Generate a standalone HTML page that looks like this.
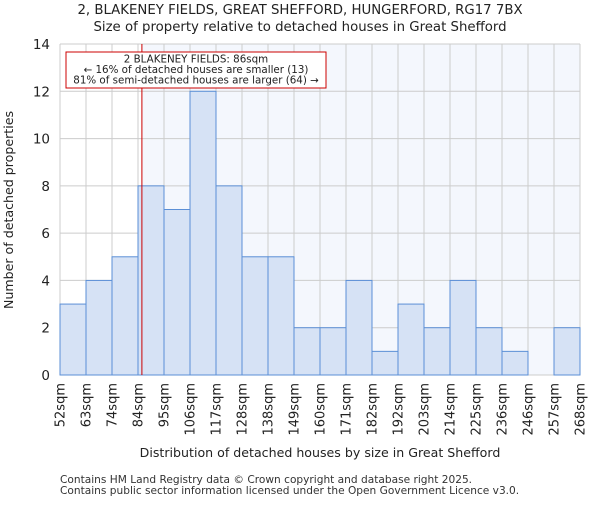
<!DOCTYPE html>
<html><head><meta charset="utf-8"><style>body{margin:0;background:#fff}svg text{font-family:"DejaVu Sans","Liberation Sans",sans-serif}</style></head>
<body>
<svg id="chart" width="600" height="500" xmlns="http://www.w3.org/2000/svg">
<text x="300" y="14" text-anchor="middle" font-size="13.3" fill="#222">2, BLAKENEY FIELDS, GREAT SHEFFORD, HUNGERFORD, RG17 7BX</text>
<text x="300" y="31" text-anchor="middle" font-size="13.3" fill="#222">Size of property relative to detached houses in Great Shefford</text>
<g id="plot"></g>
<text x="320" y="457" text-anchor="middle" font-size="12.6" fill="#222">Distribution of detached houses by size in Great Shefford</text>
<text transform="translate(13,210) rotate(-90)" text-anchor="middle" font-size="12.6" fill="#222">Number of detached properties</text>
<text x="60" y="483" font-size="10.6" fill="#333">Contains HM Land Registry data © Crown copyright and database right 2025.</text>
<text x="60" y="494" font-size="10.6" fill="#333">Contains public sector information licensed under the Open Government Licence v3.0.</text>
</svg>
<script>
const categories=["52sqm","63sqm","74sqm","84sqm","95sqm","106sqm","117sqm","128sqm","138sqm","149sqm","160sqm","171sqm","182sqm","192sqm","203sqm","214sqm","225sqm","236sqm","246sqm","257sqm","268sqm"];
const counts=[3,4,5,8,7,12,8,5,5,2,2,4,1,3,2,4,2,1,0,2];
const yTicks=[0,2,4,6,8,10,12,14];
const markerBin=3.15;
const NS="http://www.w3.org/2000/svg";
const g=document.getElementById('plot');
const L=60,R=580,T=44,B=375,n=counts.length,bw=(R-L)/n;
const xs=i=>L+i*bw, ys=v=>B-(v/14)*(B-T);
function el(t,a,p){const e=document.createElementNS(NS,t);for(const k in a)e.setAttribute(k,a[k]);(p||g).appendChild(e);return e;}
const mx=xs(markerBin);
let r=el('rect',{x:mx,y:T,width:R-mx,height:B-T,fill:'#f4f7fd'});


for(let i=0;i<=n;i++){let l=el('line',{x1:xs(i),x2:xs(i),y1:T,y2:B,stroke:'#cccccc','stroke-width':1});

}
yTicks.forEach(v=>{let l=el('line',{x1:L,x2:R,y1:ys(v),y2:ys(v),stroke:'#cccccc','stroke-width':1});


let t=el('text',{x:L-10,y:ys(v)+5,'text-anchor':'end','font-size':13.5,fill:'#222'});t.textContent=v;

});
counts.forEach((c,i)=>{if(c<=0)return;let b=el('rect',{x:xs(i),y:ys(c),width:bw,height:B-ys(c),fill:'#d6e2f5',stroke:'#5b8fd6','stroke-width':1});

});
categories.forEach((c,i)=>{let t=el('text',{transform:`translate(${xs(i)+4.5},383) rotate(-90)`,'text-anchor':'end','font-size':13,fill:'#222'});t.textContent=c;

});
let ml=el('line',{x1:mx,x2:mx,y1:T,y2:B,stroke:'#cc0000','stroke-width':1});


let box=el('rect',{x:66,y:52,width:260,height:36,fill:'#fff',stroke:'#cc0000','stroke-width':1});


["2 BLAKENEY FIELDS: 86sqm","← 16% of detached houses are smaller (13)","81% of semi-detached houses are larger (64) →"].forEach((s,k)=>{let t=el('text',{x:196,y:62.5+k*10.5,'text-anchor':'middle','font-size':10.3,fill:'#222'});t.textContent=s;

});
</script>
</body></html>
